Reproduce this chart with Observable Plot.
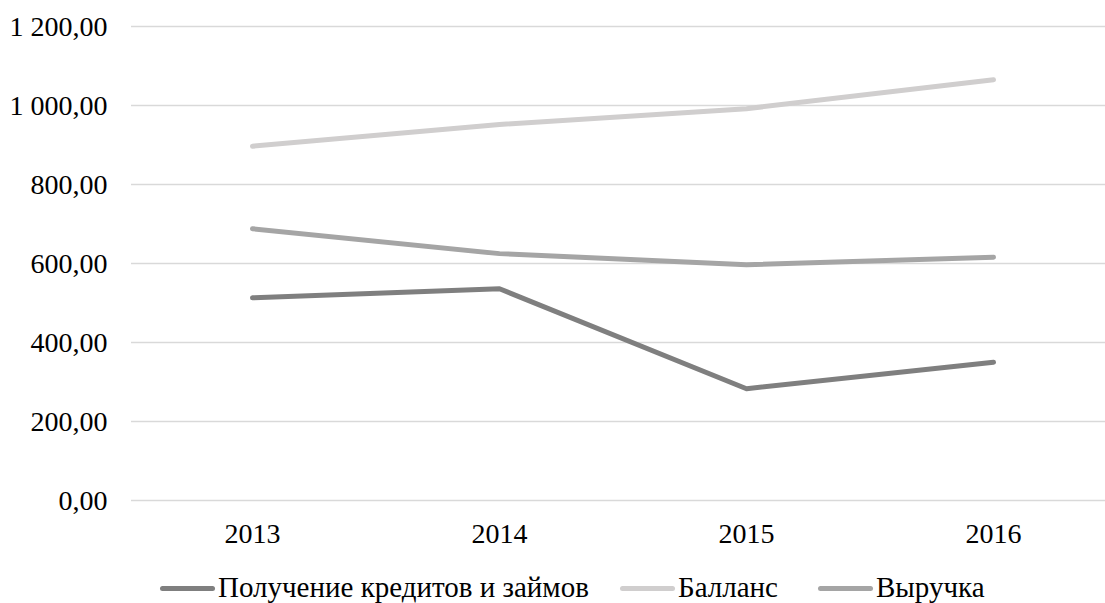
<!DOCTYPE html>
<html>
<head>
<meta charset="utf-8">
<script src="https://cdn.jsdelivr.net/npm/d3@7"></script>
<script src="https://cdn.jsdelivr.net/npm/@observablehq/plot@0.6"></script>
<style>
  html, body { margin: 0; padding: 0; background: #fff; }
  #wrap { position: relative; width: 1105px; height: 603px; overflow: hidden; font-family: "Liberation Serif", "Times New Roman", serif; }
  #legend { position: absolute; left: 0; top: 573px; height: 29px; width: 1105px; font-size: 29px; line-height: 29px; color: #000; }
  .item { position: absolute; top: 0; height: 29px; white-space: nowrap; display: flex; align-items: center; }
  .sw { display: inline-block; width: 55px; height: 5px; border-radius: 3px; margin-right: 3px; position: relative; top: 1px; }
</style>
</head>
<body>
<div id="wrap">
  <div id="chart"></div>
  <div id="legend"></div>
</div>
<script>
const years = ["2013", "2014", "2015", "2016"];
const credits = [513, 536, 283, 350];
const balance = [897, 952, 992, 1065];
const revenue = [688, 625, 597, 616];
const seriesNames = ["Получение кредитов и займов", "Балланс", "Выручка"];
const seriesColors = ["#7f7f7f", "#d0cece", "#a5a5a5"];
const yTicks = [0, 200, 400, 600, 800, 1000, 1200];

const seriesValues = [credits, balance, revenue];
const rows = [];
seriesNames.forEach((name, i) => {
  years.forEach((yr, j) => rows.push({series: name, year: yr, value: seriesValues[i][j]}));
});

const locale = d3.formatLocale({decimal: ",", thousands: "\u00a0", grouping: [3], currency: ["", ""]});
const fmt = locale.format(",.2f");

const chart = Plot.plot({
  width: 1105,
  height: 560,
  marginLeft: 131,
  marginRight: 0,
  marginTop: 26,
  marginBottom: 60,
  style: {fontFamily: "Liberation Serif, Times New Roman, serif", fontSize: "28px", color: "#000", background: "#fff"},
  x: {type: "point", domain: years, range: [252, 993], padding: 0},
  y: {domain: [0, 1200]},
  color: {domain: seriesNames, range: seriesColors},
  marks: [
    Plot.ruleY(yTicks, {stroke: "#d9d9d9", strokeWidth: 1.3}),
    Plot.axisY({ticks: yTicks, tickFormat: fmt, tickSize: 0, tickPadding: 24, label: null, dy: 1}),
    Plot.axisX({tickSize: 0, tickPadding: 23, label: null}),
    Plot.line(rows, {x: "year", y: "value", z: "series", stroke: "series", strokeWidth: 5, strokeLinecap: "round", strokeLinejoin: "round"})
  ]
});
document.getElementById("chart").appendChild(chart);

const legendLefts = [160, 620, 818];
const legend = document.getElementById("legend");
seriesNames.forEach((name, i) => {
  const item = document.createElement("div");
  item.className = "item";
  item.style.left = legendLefts[i] + "px";
  const sw = document.createElement("span");
  sw.className = "sw";
  sw.style.background = seriesColors[i];
  const label = document.createElement("span");
  label.textContent = name;
  item.appendChild(sw);
  item.appendChild(label);
  legend.appendChild(item);
});
</script>
</body>
</html>
